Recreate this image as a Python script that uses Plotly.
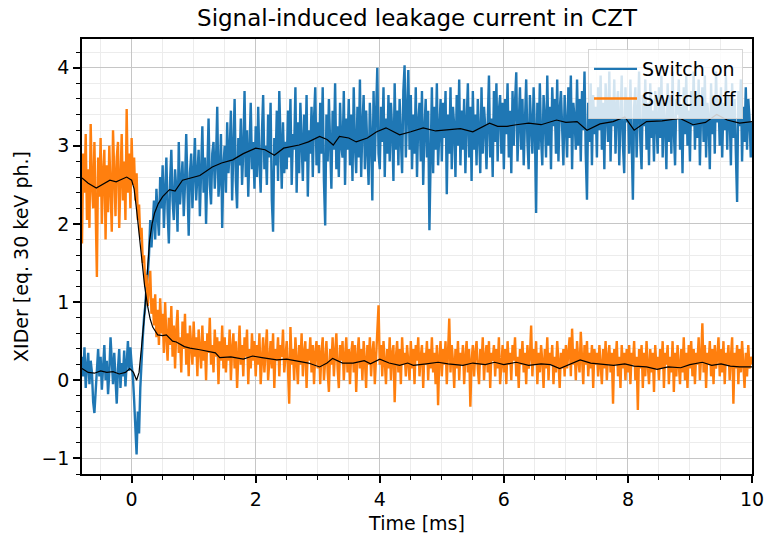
import numpy as np
import plotly.graph_objects as go

# Sample spacing of the recorded traces [ms], first sample at -0.8 ms
t_start = -0.8
t_step = 0.02

# XIDer response with the switch on; one row per stretch of samples
# (first two rows: -0.80 .. -0.02 ms, then 0.5 ms per row, last row: 10.00 ms)
switch_on_rows = [
    [0.30, 0.05, 0.42, -0.10, 0.18, 0.35, -0.05, 0.25, 0.10, -0.28, -0.42, -0.15, 0.20, 0.40, 0.05, 0.30, -0.12, 0.15, 0.45, 0.00],
    [0.25, -0.18, 0.10, 0.55, 0.20, -0.05, 0.35, 0.08, -0.30, 0.15, 0.40, -0.10, 0.22, 0.05, 0.38, -0.08, 0.28, 0.50, 0.12, 0.42],
    [0.20, 0.05, -0.25, -0.60, -0.95, -0.40, -0.68, -0.10, 0.30, 0.55, 0.80, 0.95, 1.20, 1.35, 1.60, 2.05, 1.70, 1.95, 2.30, 1.80, 2.45, 2.10, 1.85, 2.60, 2.20],
    [2.75, 1.95, 2.40, 2.85, 2.15, 1.75, 2.55, 2.95, 2.30, 2.05, 2.70, 2.45, 1.90, 3.05, 2.25, 2.60, 2.80, 2.10, 2.50, 3.15, 2.35, 1.85, 2.65, 2.90, 2.20],
    [2.55, 3.10, 2.30, 2.75, 2.95, 2.10, 2.65, 3.25, 2.40, 2.85, 2.00, 2.70, 3.35, 2.50, 2.25, 2.90, 3.05, 2.45, 2.80, 3.50, 2.35, 2.60, 3.15, 1.95, 2.75],
    [3.00, 2.40, 3.30, 2.65, 2.90, 3.45, 2.30, 2.85, 3.60, 2.55, 2.20, 3.10, 2.75, 3.35, 2.50, 2.95, 3.70, 2.60, 3.20, 2.35, 2.85, 3.55, 2.70, 3.05, 2.45],
    [3.25, 2.60, 3.50, 2.80, 2.40, 3.15, 3.65, 2.70, 3.00, 2.50, 3.40, 2.85, 3.55, 2.30, 1.90, 3.10, 2.75, 3.45, 2.55, 3.70, 2.90, 2.45, 3.30, 2.65, 3.05],
    [2.70, 3.45, 2.85, 3.60, 2.50, 3.15, 2.95, 3.75, 2.40, 3.30, 2.65, 3.55, 3.05, 2.55, 3.40, 2.80, 3.65, 2.35, 3.20, 2.90, 3.50, 2.60, 3.35, 3.75, 2.75],
    [3.30, 2.65, 3.55, 2.90, 3.75, 2.55, 1.98, 3.40, 2.80, 3.60, 3.05, 2.45, 3.45, 2.95, 3.80, 2.70, 3.25, 2.60, 3.55, 3.00, 2.85, 3.70, 2.50, 3.35, 2.95],
    [3.60, 2.75, 3.40, 2.55, 3.75, 3.00, 2.65, 3.50, 2.85, 3.85, 2.60, 3.25, 3.65, 2.70, 3.45, 2.95, 2.50, 3.55, 3.10, 2.30, 3.70, 2.80, 3.35, 4.00, 2.90],
    [2.70, 3.50, 3.05, 3.75, 2.60, 3.35, 2.90, 3.65, 2.80, 3.55, 3.20, 2.55, 3.80, 2.95, 3.45, 2.75, 3.60, 3.10, 2.65, 3.70, 4.03, 2.85, 3.40, 3.97, 2.95],
    [3.65, 2.70, 3.40, 2.90, 3.75, 2.60, 3.30, 3.55, 2.80, 3.70, 2.50, 3.20, 3.60, 2.85, 3.45, 1.92, 3.05, 3.75, 2.65, 3.50, 2.95, 3.80, 2.75, 3.35, 3.60],
    [2.80, 3.55, 3.10, 3.70, 2.38, 3.40, 2.90, 3.75, 2.70, 3.50, 3.25, 2.60, 3.65, 3.00, 3.85, 2.75, 3.45, 2.95, 3.60, 2.65, 3.30, 3.80, 2.85, 3.50, 2.55],
    [3.70, 2.95, 3.40, 2.75, 3.60, 3.15, 2.65, 3.75, 2.90, 3.50, 3.25, 2.70, 3.55, 3.90, 2.85, 3.35, 2.60, 3.70, 3.05, 3.80, 2.80, 3.45, 3.65, 2.90, 3.55],
    [2.70, 3.60, 3.15, 3.80, 2.85, 3.45, 2.65, 3.70, 3.00, 3.55, 3.94, 2.80, 3.40, 3.75, 2.95, 3.60, 2.75, 3.50, 3.85, 3.05, 2.70, 3.65, 3.30, 2.90, 3.75],
    [3.20, 2.14, 3.55, 2.95, 3.80, 3.10, 2.75, 3.65, 3.35, 2.85, 3.90, 3.00, 3.50, 2.70, 3.75, 3.25, 3.60, 2.90, 3.85, 2.80, 3.45, 3.70, 3.05, 2.75, 3.65],
    [3.30, 2.85, 3.75, 3.10, 3.90, 2.70, 3.55, 3.35, 2.95, 3.85, 3.00, 3.60, 2.80, 3.70, 3.20, 3.95, 2.90, 2.31, 3.55, 3.05, 3.80, 2.75, 3.65, 3.15, 3.50],
    [2.85, 3.75, 3.20, 3.90, 2.95, 3.55, 2.70, 3.80, 3.35, 3.05, 3.95, 2.80, 3.60, 3.25, 3.85, 2.90, 3.50, 3.70, 2.75, 3.40, 3.90, 3.00, 2.65, 3.75, 3.30],
    [3.60, 2.90, 3.85, 3.15, 2.31, 3.50, 3.75, 2.85, 3.40, 3.95, 3.05, 2.70, 3.65, 3.25, 3.85, 2.95, 3.55, 2.75, 3.80, 3.10, 3.45, 2.80, 3.70, 3.35, 2.90],
    [3.75, 3.10, 3.90, 2.85, 3.55, 3.30, 2.70, 3.80, 3.05, 3.65, 2.90, 3.95, 3.20, 2.75, 3.60, 3.40, 3.85, 2.95, 3.50, 2.65, 3.75, 3.15, 3.90, 3.00, 3.45],
    [2.80, 3.70, 3.25, 3.95, 2.95, 3.60, 3.10, 3.85, 2.75, 3.45, 3.75, 3.05, 3.90, 2.85, 3.55, 3.35, 2.70, 3.80, 3.15, 3.65, 2.90, 3.95, 3.30, 3.60, 3.00],
    [3.75, 2.85, 3.55, 3.20, 3.90, 2.95, 3.65, 3.40, 2.75, 3.80, 3.10, 3.60, 2.90, 2.28, 3.70, 3.25, 3.85, 2.80, 3.50, 3.05, 3.75, 2.95, 3.60, 3.35, 2.85],
    [3.30],
]

# XIDer response with the switch off (same sampling and row layout)
switch_off_rows = [
    [1.75, 2.90, 2.40, 3.15, 2.05, 2.70, 1.95, 3.28, 2.50, 2.20, 3.05, 1.85, 1.32, 2.85, 2.35, 3.10, 2.00, 2.65, 2.95, 1.80],
    [2.75, 2.15, 3.00, 2.45, 1.90, 3.20, 2.60, 2.10, 2.85, 3.05, 1.95, 2.55, 3.15, 2.30, 2.80, 2.05, 3.47, 2.40, 2.90, 2.20],
    [3.10, 2.50, 2.85, 2.30, 2.65, 2.05, 2.25, 1.80, 1.95, 1.50, 1.60, 1.20, 1.35, 0.95, 1.15, 1.40, 0.85, 1.05, 0.70, 1.10, 0.55, 0.90, 0.45, 1.05, 0.60],
    [0.85, 0.35, 1.00, 0.55, 0.25, 0.80, 0.45, 0.95, 0.30, 0.70, 0.15, 0.65, 0.90, 0.35, 0.55, 0.10, 0.75, 0.40, 0.85, 0.20, 0.60, 0.05, 0.70, 0.45, 0.20],
    [0.75, 0.30, 0.55, 0.05, 0.65, 0.40, 0.15, 0.70, 0.25, 0.50, 0.00, 0.60, 0.35, 0.80, 0.20, 0.45, 0.10, 0.65, 0.30, 0.55, -0.05, 0.50, 0.25, 0.70, 0.15],
    [0.55, 0.10, 0.45, 0.25, 0.65, 0.00, 0.40, 0.60, 0.15, 0.50, -0.10, 0.35, 0.70, 0.20, 0.45, 0.05, 0.55, 0.30, 0.65, -0.05, 0.40, 0.15, 0.60, 0.25, 0.50],
    [0.05, 0.45, 0.20, 0.60, -0.05, 0.35, 0.55, 0.10, 0.40, 0.65, 0.00, 0.30, 0.50, 0.15, 0.60, -0.10, 0.40, 0.25, 0.55, 0.05, 0.45, 0.30, 0.65, 0.10, 0.35],
    [0.50, 0.15, -0.30, 0.68, 0.20, 0.40, 0.00, 0.55, 0.30, -0.05, 0.45, 0.20, 0.60, 0.05, 0.35, 0.50, -0.10, 0.40, 0.25, 0.55, 0.10, 0.45, -0.05, 0.35, 0.50],
    [0.15, 0.45, -0.05, 0.35, 0.55, 0.00, 0.30, 0.50, 0.10, -0.15, 0.40, 0.20, 0.55, 0.05, 0.35, 0.60, 0.15, -0.10, 0.45, 0.25, 0.50, 0.00, 0.30, 0.55, 0.10],
    [0.40, -0.05, 0.35, 0.50, 0.10, 0.45, -0.15, 0.30, 0.55, 0.15, 0.40, 0.00, 0.50, 0.25, -0.10, 0.45, 0.20, 0.55, 0.05, 0.35, 0.50, -0.05, 0.30, 0.45, 0.96],
    [0.20, 0.45, 0.05, 0.50, 0.25, -0.05, 0.40, 0.15, 0.55, 0.00, 0.35, 0.45, -0.28, 0.30, 0.50, 0.10, 0.40, -0.05, 0.55, 0.20, 0.35, 0.05, 0.45, 0.25, 0.00],
    [0.50, 0.15, 0.40, -0.05, 0.45, 0.25, 0.55, 0.05, 0.30, 0.45, -0.10, 0.35, 0.20, 0.50, 0.00, 0.40, 0.15, 0.55, 0.10, 0.35, -0.05, 0.45, -0.32, 0.30, 0.50],
    [0.05, 0.40, 0.20, 0.50, -0.05, 0.35, 0.79, 0.10, 0.45, 0.25, -0.10, 0.40, 0.15, 0.50, 0.00, 0.35, 0.20, 0.45, -0.05, 0.30, 0.50, 0.10, 0.40, -0.34, 0.25],
    [0.45, 0.05, 0.35, 0.50, 0.15, -0.05, 0.40, 0.20, 0.55, 0.00, 0.30, 0.45, 0.10, 0.50, -0.10, 0.35, 0.25, 0.45, 0.05, 0.40, 0.15, 0.55, -0.05, 0.30, 0.45],
    [0.10, 0.40, -0.05, 0.50, 0.20, 0.35, 0.00, 0.45, 0.25, 0.55, 0.05, 0.30, -0.10, 0.40, 0.20, 0.50, 0.10, 0.35, -0.05, 0.45, 0.15, 0.30, 0.70, 0.05, 0.40],
    [0.20, 0.50, -0.05, 0.35, 0.10, 0.45, 0.25, -0.10, 0.40, 0.15, 0.55, 0.00, 0.35, 0.20, 0.45, -0.05, 0.30, 0.10, 0.50, 0.25, -0.10, 0.35, 0.15, 0.40, 0.05],
    [0.45, 0.15, 0.35, 0.55, 0.05, 0.66, 0.20, 0.40, 0.00, 0.50, 0.25, 0.10, 0.62, 0.30, -0.05, 0.45, 0.20, 0.50, 0.05, 0.35, 0.15, 0.45, -0.10, 0.40, 0.20],
    [0.35, 0.05, 0.45, 0.20, -0.05, 0.40, 0.15, 0.50, 0.00, 0.30, 0.45, 0.10, 0.35, -0.30, 0.40, 0.20, 0.50, 0.05, 0.30, -0.10, 0.45, 0.15, 0.35, 0.00, 0.40],
    [0.10, 0.45, -0.05, 0.35, 0.20, 0.50, 0.00, 0.30, -0.38, 0.40, 0.15, 0.45, -0.10, 0.35, 0.05, 0.50, 0.20, -0.05, 0.40, 0.10, 0.35, -0.15, 0.45, 0.15, 0.30],
    [0.00, 0.40, 0.15, 0.50, -0.10, 0.35, 0.20, 0.45, -0.05, 0.30, 0.10, 0.50, -0.15, 0.35, 0.05, 0.45, 0.20, -0.05, 0.40, 0.10, 0.55, 0.00, 0.35, -0.10, 0.45],
    [0.15, 0.50, 0.05, 0.40, -0.05, 0.35, 0.20, 0.55, 0.00, 0.30, 0.73, 0.10, 0.45, -0.10, 0.35, 0.20, 0.50, 0.05, 0.40, -0.05, 0.45, 0.15, 0.30, 0.55, 0.05],
    [0.40, 0.10, 0.50, -0.05, 0.35, 0.20, 0.45, 0.00, 0.30, 0.55, -0.30, 0.35, 0.15, 0.45, -0.05, 0.40, 0.10, 0.50, 0.20, -0.10, 0.35, 0.05, 0.45, 0.15, 0.30],
    [0.20],
]

# Smoothed (moving-average) curves
smooth_on_t = [
    -0.8, -0.7, -0.6, -0.5, -0.4, -0.3, -0.2, -0.1, -0.03, 0.03, 0.08, 0.12,
    0.16, 0.21, 0.25, 0.29, 0.33, 0.37, 0.43, 0.5, 0.61, 0.7, 0.82, 0.98,
    1.1, 1.3, 1.45, 1.63, 1.8, 2.0, 2.15, 2.3, 2.45, 2.7, 2.85, 3.03, 3.15,
    3.25, 3.35, 3.5, 3.62, 3.8, 3.95, 4.1, 4.32, 4.5, 4.7, 4.9, 5.08, 5.3,
    5.5, 5.77, 5.9, 6.05, 6.2, 6.4, 6.6, 6.85, 7.0, 7.18, 7.34, 7.55, 7.76,
    7.95, 8.1, 8.3, 8.55, 8.84, 9.05, 9.25, 9.43, 9.6, 9.8, 10.0,
]
smooth_on = [
    0.15, 0.10, 0.09, 0.12, 0.10, 0.11, 0.08, 0.10, 0.15, 0.10, 0.00, 0.10,
    0.43, 0.86, 1.35, 1.79, 2.00, 2.14, 2.26, 2.35, 2.44, 2.42, 2.56, 2.60,
    2.62, 2.73, 2.78, 2.82, 2.90, 2.97, 2.95, 2.88, 2.97, 3.01, 3.05, 3.12, 3.08,
    3.01, 3.12, 3.10, 3.05, 3.10, 3.18, 3.23, 3.14, 3.18, 3.23, 3.19, 3.20, 3.22,
    3.18, 3.29, 3.25, 3.25, 3.27, 3.29, 3.27, 3.33, 3.30, 3.31, 3.20, 3.28, 3.31,
    3.37, 3.20, 3.31, 3.32, 3.35, 3.27, 3.30, 3.40, 3.33, 3.29, 3.31,
]
smooth_off_t = [
    -0.8, -0.7, -0.57, -0.45, -0.35, -0.25, -0.15, -0.08, 0.0, 0.04, 0.08, 0.12,
    0.16, 0.21, 0.26, 0.3, 0.34, 0.42, 0.5, 0.56, 0.66, 0.72, 0.85, 0.94, 1.1,
    1.26, 1.35, 1.42, 1.6, 1.8, 1.95, 2.1, 2.34, 2.5, 2.7, 2.85, 3.03, 3.15,
    3.24, 3.4, 3.57, 3.75, 3.85, 4.0, 4.15, 4.32, 4.45, 4.54, 4.75, 4.94, 5.1,
    5.34, 5.5, 5.7, 5.85, 6.0, 6.2, 6.4, 6.6, 6.75, 6.9, 7.05, 7.23, 7.4, 7.6,
    7.77, 7.95, 8.1, 8.3, 8.47, 8.65, 8.85, 9.0, 9.2, 9.35, 9.5, 9.65, 9.8, 10.0,
]
smooth_off = [
    2.59, 2.52, 2.46, 2.52, 2.56, 2.54, 2.57, 2.60, 2.56, 2.45, 2.18, 1.90,
    1.63, 1.20, 0.94, 0.78, 0.68, 0.58, 0.57, 0.58, 0.50, 0.49, 0.43, 0.41, 0.39,
    0.36, 0.35, 0.29, 0.30, 0.27, 0.31, 0.29, 0.26, 0.27, 0.24, 0.22, 0.17, 0.22,
    0.28, 0.22, 0.22, 0.25, 0.21, 0.27, 0.22, 0.19, 0.22, 0.19, 0.21, 0.23, 0.21,
    0.19, 0.22, 0.20, 0.23, 0.20, 0.23, 0.19, 0.21, 0.20, 0.15, 0.20, 0.26, 0.22, 0.20,
    0.19, 0.21, 0.18, 0.17, 0.14, 0.17, 0.16, 0.20, 0.23, 0.19, 0.21, 0.18, 0.17, 0.17,
]

expected_row_lengths = [20, 20] + [25] * 20 + [1]
for rows in (switch_on_rows, switch_off_rows):
    assert [len(r) for r in rows] == expected_row_lengths, [len(r) for r in rows]
assert len(smooth_on_t) == len(smooth_on)
assert len(smooth_off_t) == len(smooth_off)

switch_on = [v for row in switch_on_rows for v in row]
switch_off = [v for row in switch_off_rows for v in row]
t = np.round(t_start + t_step * np.arange(len(switch_on)), 2)

BLUE = "#1f77b4"
ORANGE = "#ff7f0e"
FONT = "DejaVu Sans"

fig = go.Figure()
fig.add_trace(go.Scatter(x=t, y=switch_on, mode="lines", name="Switch on",
                         line=dict(color=BLUE, width=2.4), legendgroup="on"))
fig.add_trace(go.Scatter(x=smooth_on_t, y=smooth_on, mode="lines", showlegend=False,
                         line=dict(color="black", width=1.2)))
fig.add_trace(go.Scatter(x=t, y=switch_off, mode="lines", name="Switch off",
                         line=dict(color=ORANGE, width=2.4), legendgroup="off"))
fig.add_trace(go.Scatter(x=smooth_off_t, y=smooth_off, mode="lines", showlegend=False,
                         line=dict(color="black", width=1.2)))

axis_common = dict(
    showline=True, mirror=True, linecolor="black", linewidth=1.6,
    ticks="outside", ticklen=7, tickwidth=1.6, tickcolor="black",
    showgrid=True, gridcolor="#c6c6c6", gridwidth=1.3, zeroline=False,
    tickfont=dict(family=FONT, size=19, color="black"), automargin=False,
)

fig.update_xaxes(
    range=[-0.8, 10], tick0=0, dtick=2,
    title=dict(text="Time [ms]", font=dict(family=FONT, size=19, color="black"), standoff=8),
    minor=dict(dtick=0.5, tick0=0, ticks="outside", ticklen=4, tickwidth=1.2,
               tickcolor="black", showgrid=True, gridcolor="#ececec", gridwidth=1),
    **axis_common,
)
fig.update_yaxes(
    range=[-1.2, 4.367], tick0=0, dtick=1,
    title=dict(text="XIDer [eq. 30 keV ph.]", font=dict(family=FONT, size=19, color="black"), standoff=8),
    minor=dict(dtick=0.2, tick0=0, ticks="outside", ticklen=4, tickwidth=1.2,
               tickcolor="black", showgrid=True, gridcolor="#ececec", gridwidth=1),
    **axis_common,
)

fig.update_layout(
    width=767, height=536,
    margin=dict(l=82, r=15, t=39, b=62),
    plot_bgcolor="white", paper_bgcolor="white",
    font=dict(family=FONT, color="black"),
    title=dict(text="Signal-induced leakage current in CZT", x=417 / 767, xanchor="center",
               y=1 - 18 / 536, yanchor="middle", font=dict(family=FONT, size=23, color="black")),
    legend=dict(x=0.9866, xanchor="right", y=0.977, yanchor="top", itemwidth=43,
                bgcolor="rgba(255,255,255,0.8)", bordercolor="rgba(204,204,204,0.8)", borderwidth=1,
                font=dict(family=FONT, size=19, color="black"), tracegroupgap=2),
    showlegend=True,
)

fig.write_html("out.html")
